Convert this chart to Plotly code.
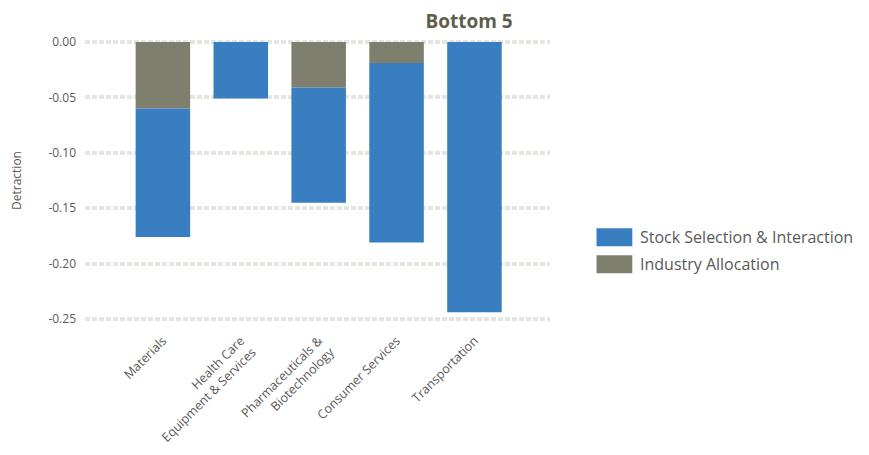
import plotly.graph_objects as go

categories = ["Materials", "Health Care<br>Equipment & Services", "Pharmaceuticals &<br>Biotechnology",
              "Consumer Services", "Transportation"]
industry_allocation = [-0.060, 0.000, -0.041, -0.019, 0.000]
stock_selection = [-0.116, -0.051, -0.104, -0.162, -0.244]
y_ticks = [0.0, -0.05, -0.10, -0.15, -0.20, -0.25]
y_tick_labels = ["0.00", "-0.05", "-0.10", "-0.15", "-0.20", "-0.25"]

blue = "#3A7EC2"
olive = "#7F7F6D"
text_col = "#595959"
font_family = "Open Sans, Liberation Sans, sans-serif"

fig = go.Figure()
fig.add_trace(go.Bar(x=categories, y=industry_allocation, name="Industry Allocation",
                     marker=dict(color=olive, line=dict(width=0)), showlegend=False))
fig.add_trace(go.Bar(x=categories, y=stock_selection, name="Stock Selection & Interaction",
                     marker=dict(color=blue, line=dict(width=0)), showlegend=False))

# custom legend (larger swatches like the reference)
legend_items = [("Stock Selection & Interaction", blue), ("Industry Allocation", olive)]
for i, (label, col) in enumerate(legend_items):
    yc = 0.31 - i * 0.09
    fig.add_shape(type="rect", xref="paper", yref="paper", x0=1.10, x1=1.177,
                  y0=yc - 0.03, y1=yc + 0.03, fillcolor=col, line=dict(width=0))
    fig.add_annotation(xref="paper", yref="paper", x=1.19, y=yc, text=label, showarrow=False,
                       xanchor="left", yanchor="middle",
                       font=dict(size=16, color=text_col, family=font_family))

fig.update_layout(
    width=869, height=455,
    margin=dict(l=85, r=319, t=31, b=125),
    barmode="relative", bargap=0.3,
    plot_bgcolor="white", paper_bgcolor="white",
    font=dict(family=font_family, color=text_col, size=12),
    title=dict(text="<b>Bottom 5</b>", x=469 / 869, xanchor="center", y=1 - 21 / 455, yanchor="middle",
               font=dict(size=19, color="#5E5E4C", family=font_family)),
    showlegend=False,
)
fig.update_xaxes(range=[-1.0, 4.97], showgrid=False, zeroline=False, showline=False, automargin=False,
                 tickangle=-45, ticks="", tickfont=dict(size=12.5, color=text_col))
fig.update_yaxes(range=[-0.26, 0.01], tickvals=y_ticks, ticktext=y_tick_labels, automargin=False,
                 showgrid=True, gridcolor="#E6E6E0", gridwidth=4, griddash="5px,2px",
                 zeroline=False, showline=False, ticks="", ticklabelstandoff=8,
                 tickfont=dict(size=12, color=text_col),
                 title=dict(text="Detraction", font=dict(size=12, color=text_col), standoff=24))

fig.write_html("out.html")
